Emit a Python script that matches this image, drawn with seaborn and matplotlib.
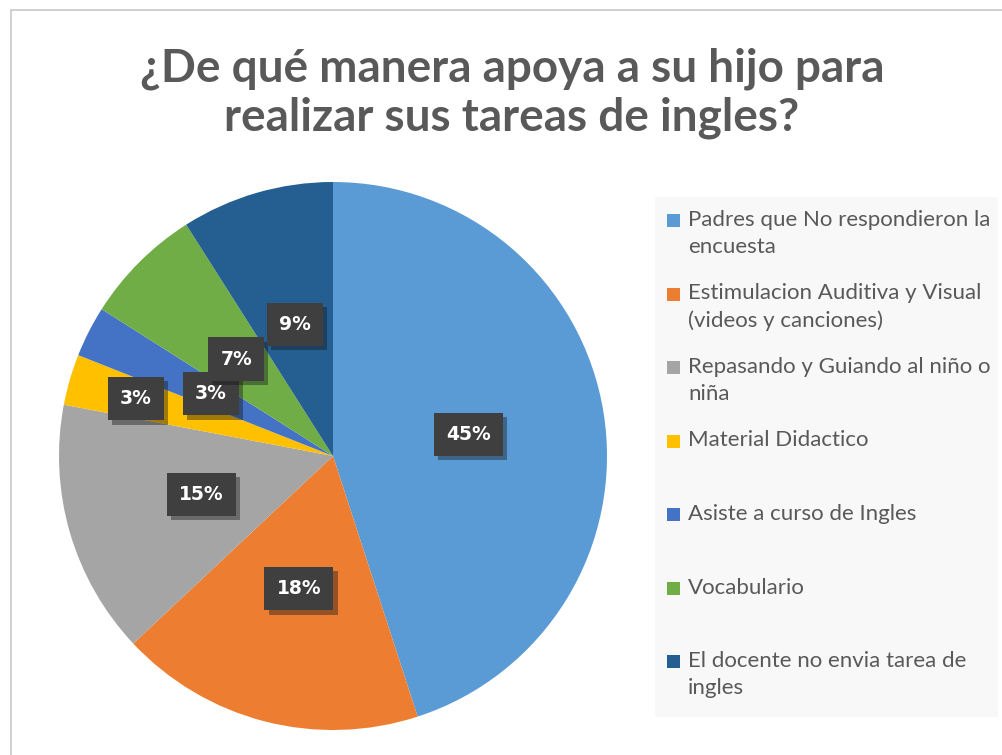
import matplotlib
matplotlib.use("Agg")
import matplotlib.pyplot as plt
import matplotlib.patheffects as pe
from matplotlib.patches import Rectangle
import seaborn as sns
import numpy as np

sns.set_theme(style="white")
plt.rcParams['font.family'] = ['Lato', 'DejaVu Sans']

categories = [
    "Padres que No respondieron la\nencuesta",
    "Estimulacion Auditiva y Visual\n(videos y canciones)",
    "Repasando y Guiando al niño o\nniña",
    "Material Didactico",
    "Asiste a curso de Ingles",
    "Vocabulario",
    "El docente no envia tarea de\ningles",
]
values = [45, 18, 15, 3, 3, 7, 9]
colors = ["#5B9BD5", "#ED7D31", "#A5A5A5", "#FFC000", "#4472C4", "#70AD47", "#255E91"]
title = "¿De qué manera apoya a su hijo para\nrealizar sus tareas de ingles?"

W, H = 1002, 755
fig = plt.figure(figsize=(W / 100, H / 100), dpi=100)
fig.patch.set_facecolor("white")

# outer chart border
fig.add_artist(Rectangle((11 / W, -0.01), 1.0, 1 - 10 / H + 0.01, transform=fig.transFigure,
                         fill=False, edgecolor="#C8C8C8", linewidth=1.2))

cx, cy, r = 333, 456, 274
ax = fig.add_axes([(cx - r) / W, (H - cy - r) / H, 2 * r / W, 2 * r / H])
wedges, texts, autotexts = ax.pie(
    values, colors=colors, startangle=90, counterclock=False,
    autopct=lambda p: f"{p:.0f}%", pctdistance=0.5,
    wedgeprops=dict(linewidth=0), textprops=dict(color="white", fontsize=13.5, fontweight="bold"),
)
ax.set_aspect("equal")
ax.set_xlim(-1, 1)
ax.set_ylim(-1, 1)

# nudge the small yellow label outward (best-fit placement in the reference)
x, y = autotexts[3].get_position()
autotexts[3].set_position((x * 1.5, y * 1.5))

for t in autotexts:
    t.set_family(['DejaVu Sans'])
    t.set_bbox(dict(boxstyle="square,pad=0.65", facecolor="#3F3F3F", edgecolor="none"))
    t.get_bbox_patch().set_path_effects([pe.withSimplePatchShadow(offset=(3, -3), alpha=0.4), pe.Normal()])

fig.text(0.511, 1 - 93 / H, title, ha="center", va="center", fontsize=33, fontweight="bold",
         color="#595959", linespacing=1.2)

# legend panel
lx0, ly0, lx1, ly1 = 655, 197, 998, 717
fig.add_artist(Rectangle((lx0 / W, 1 - ly1 / H), (lx1 - lx0) / W, (ly1 - ly0) / H,
                         transform=fig.transFigure, facecolor="#F8F8F8", edgecolor="none"))
step = 73.5
for i, (lab, col) in enumerate(zip(categories, colors)):
    ytop = 220 + i * step
    fig.add_artist(Rectangle((667 / W, 1 - (ytop + 7) / H), 13 / W, 13 / H,
                             transform=fig.transFigure, facecolor=col, edgecolor="none"))
    for j, line in enumerate(lab.split("\n")):
        fig.text(688 / W, 1 - (ytop + j * 27) / H, line, ha="left", va="center",
                 fontsize=16, color="#595959")

fig.savefig("out.png", dpi=100)
